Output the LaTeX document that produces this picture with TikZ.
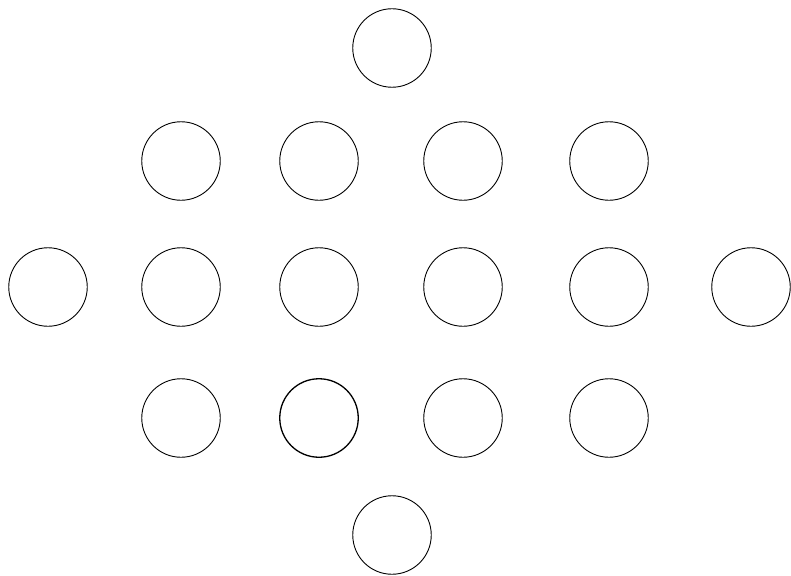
\documentclass[tikz,border=0pt]{standalone}
\begin{document}
\begin{tikzpicture}[x=1pt,y=-1pt,
  disc/.style={circle,draw=black,line width=0.9pt,minimum size=78.5pt,inner sep=0pt},
  thickdisc/.style={disc,line width=1.3pt}]
\useasboundingbox (0,0) rectangle (791,575);
\node[disc] (t) at (392,48) {};
\node[disc] (a1) at (181,161) {};
\node[disc] (a2) at (319,161) {};
\node[disc] (a3) at (463,161) {};
\node[disc] (a4) at (609,161) {};
\node[disc] (b0) at (48,287) {};
\node[disc] (b1) at (181,287) {};
\node[disc] (b2) at (319,287) {};
\node[disc] (b3) at (463,287) {};
\node[disc] (b4) at (609,287) {};
\node[disc] (b5) at (751,287) {};
\node[disc] (c1) at (181,418) {};
\node[thickdisc] (c2) at (319,418) {};
\node[disc] (c3) at (463,418) {};
\node[disc] (c4) at (609,418) {};
\node[disc] (bt) at (392,535) {};
\end{tikzpicture}
\end{document}
